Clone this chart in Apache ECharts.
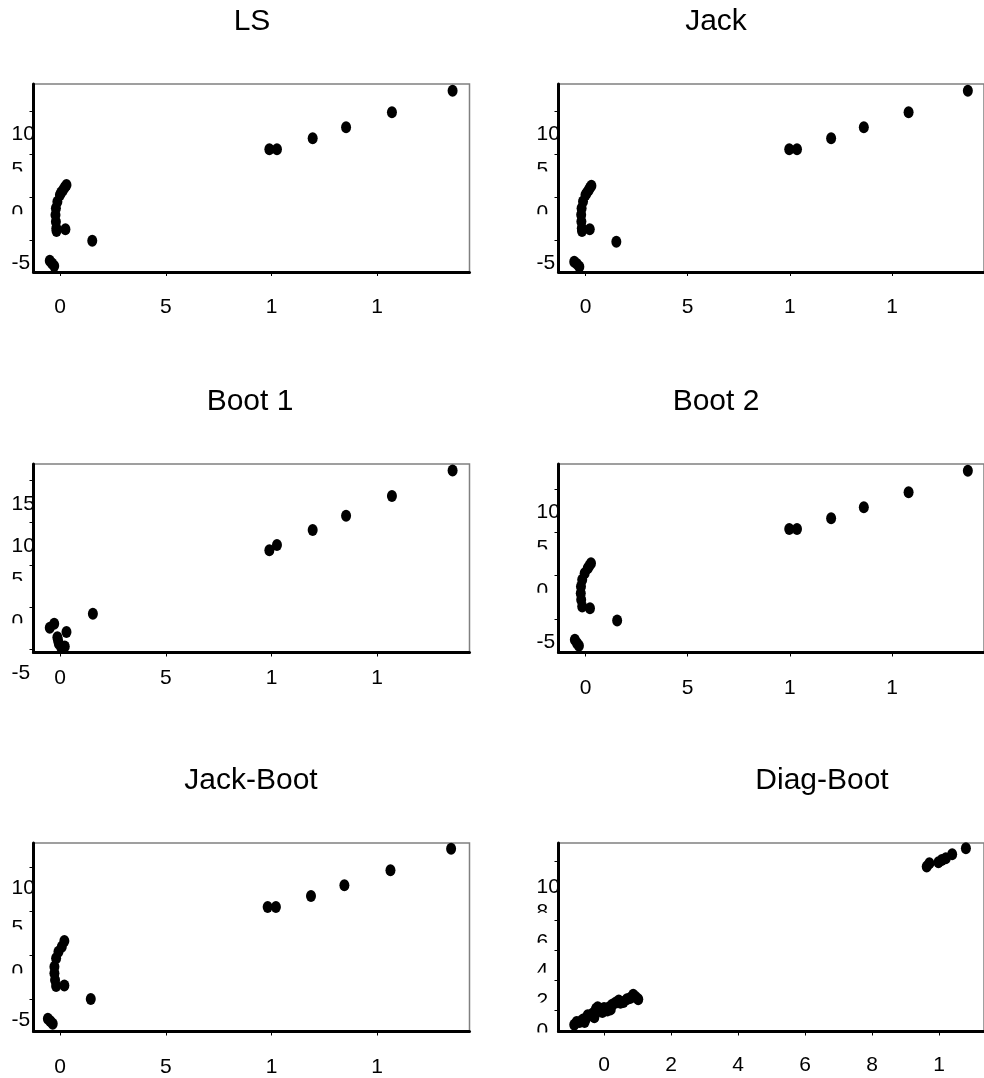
<!DOCTYPE html>
<html>
<head>
<meta charset="utf-8">
<script src="https://cdn.jsdelivr.net/npm/echarts@6/dist/echarts.min.js"></script>
<style>
html, body { margin: 0; padding: 0; background: #fff; }
#main { width: 984px; height: 1078px; }
</style>
</head>
<body>
<div id="main"></div>
<script>
var FONT = "'Liberation Sans', Arial, Helvetica, sans-serif";

var titles = ['LS', 'Jack', 'Boot 1', 'Boot 2', 'Jack-Boot', 'Diag-Boot'];

// tick values, and the (truncated) text printed at them
var xTicksWide = [0, 5, 10, 15];
var xLabelsWide = ['0', '5', '1', '1'];
var xTicksDiag = [0, 2, 4, 6, 8, 10];
var xLabelsDiag = ['0', '2', '4', '6', '8', '1'];
var yTicksA = [-5, 0, 5, 10];
var yLabelsA = ['-5', '0', '5', '10'];
var yTicksBoot1 = [-5, 0, 5, 10, 15];
var yLabelsBoot1 = ['-5', '0', '5', '10', '15'];
var yTicksDiag = [0, 2, 4, 6, 8, 10];
var yLabelsDiag = ['0', '2', '4', '6', '8', '10'];

// axis extents
var xRangeLeft = [-1.26, 19.37];
var xRangeRight = [-1.32, 19.5];
var xRangeDiag = [-1.36, 11.34];
var yRangeLS = [-8.75, 13.24];
var yRangeBoot1 = [-5.34, 16.9];
var yRangeBoot2 = [-8.87, 12.9];
var yRangeJackBoot = [-8.68, 12.8];
var yRangeDiag = [-1.41, 11.2];

// points [x, y]
var lsPoints = [
  [0.30, 1.43], [0.22, 1.15], [0.14, 0.84], [0.05, 0.55], [-0.01, 0.26], [-0.13, -0.53],
  [-0.20, -1.30], [-0.22, -2.08], [-0.20, -2.87], [-0.18, -3.64], [-0.17, -3.95], [0.25, -3.75],
  [1.52, -5.09], [-0.49, -7.43], [-0.38, -7.75], [-0.28, -8.05],
  [9.90, 5.60], [10.26, 5.60], [11.95, 6.89], [13.53, 8.18], [15.70, 9.93], [18.57, 12.46]
];
var jackPoints = [
  [0.29, 1.35], [0.22, 1.1], [0.15, 0.80], [0.06, 0.5], [0.00, 0.25], [-0.12, -0.50],
  [-0.19, -1.28], [-0.21, -2.05], [-0.20, -2.85], [-0.18, -3.62], [-0.17, -3.95], [0.21, -3.75],
  [1.51, -5.20], [-0.55, -7.54], [-0.42, -7.80], [-0.30, -8.13],
  [9.97, 5.60], [10.35, 5.60], [12.02, 6.89], [13.62, 8.18], [15.81, 9.93], [18.71, 12.46]
];
var boot1Points = [
  [-0.49, -2.41], [-0.28, -1.94], [0.30, -2.93], [-0.13, -3.53], [-0.10, -3.90],
  [-0.06, -4.31], [0.06, -4.78], [0.22, -4.63],
  [1.55, -0.76],
  [9.90, 6.73], [10.26, 7.33], [11.95, 9.10], [13.53, 10.79], [15.70, 13.12], [18.57, 16.12]
];
var boot2Points = [
  [0.27, 1.44], [0.19, 1.15], [0.11, 0.87], [-0.04, 0.29], [-0.16, -0.48], [-0.22, -1.26],
  [-0.23, -2.02], [-0.21, -2.79], [-0.16, -3.56], [0.22, -3.75],
  [1.55, -5.18], [-0.52, -7.40], [-0.41, -7.79], [-0.32, -8.10],
  [9.97, 5.40], [10.35, 5.40], [12.02, 6.63], [13.62, 7.90], [15.81, 9.63], [18.71, 12.12]
];
var jackBootPoints = [
  [0.20, 1.63], [0.08, 0.98], [-0.08, 0.41], [-0.19, -0.34], [-0.27, -1.30],
  [-0.27, -2.05], [-0.24, -2.81], [-0.19, -3.49], [0.20, -3.45],
  [1.45, -4.97], [-0.58, -7.24], [-0.46, -7.50], [-0.35, -7.81],
  [9.82, 5.52], [10.21, 5.52], [11.87, 6.77], [13.45, 7.99], [15.63, 9.69], [18.50, 12.15]
];
var diagPoints = [
  [-0.89, -0.96], [-0.82, -0.78], [-0.73, -0.78], [-0.63, -0.60], [-0.58, -0.78], [-0.53, -0.51],
  [-0.49, -0.33], [-0.39, -0.29], [-0.31, -0.16], [-0.29, -0.45], [-0.24, 0.11], [-0.19, 0.22],
  [-0.10, 0.11], [-0.05, -0.11], [0.00, 0.16], [0.10, 0.00], [0.15, 0.22], [0.20, 0.07],
  [0.24, 0.38], [0.34, 0.51], [0.44, 0.67], [0.49, 0.51], [0.58, 0.56], [0.68, 0.74],
  [0.78, 0.83], [0.87, 1.05], [0.95, 0.89], [1.02, 0.74],
  [9.63, 9.62], [9.71, 9.85], [9.98, 9.91], [10.08, 10.07], [10.20, 10.18], [10.39, 10.45], [10.80, 10.85]
];

// layout of the six panels
var colLeft = [33.5, 558.5];
var rowTop = [84, 464, 843];
var rowHeight = [188, 188.5, 188.5];
var titleTop = [7, 387, 766];

var panels = [
  { pts: lsPoints, xr: xRangeLeft, yr: yRangeLS, xt: xTicksWide, xl: xLabelsWide, yt: yTicksA, yl: yLabelsA, col: 0, row: 0, tx: 252, xm: 26, full: 23, cut: 16 },
  { pts: jackPoints, xr: xRangeRight, yr: yRangeLS, xt: xTicksWide, xl: xLabelsWide, yt: yTicksA, yl: yLabelsA, col: 1, row: 0, tx: 716, xm: 26, full: 23, cut: 16 },
  { pts: boot1Points, xr: xRangeLeft, yr: yRangeBoot1, xt: xTicksWide, xl: xLabelsWide, yt: yTicksBoot1, yl: yLabelsBoot1, col: 0, row: 1, tx: 250, xm: 16, full: 24, cut: 15 },
  { pts: boot2Points, xr: xRangeRight, yr: yRangeBoot2, xt: xTicksWide, xl: xLabelsWide, yt: yTicksA, yl: yLabelsA, col: 1, row: 1, tx: 716, xm: 26, full: 23, cut: 16 },
  { pts: jackBootPoints, xr: xRangeLeft, yr: yRangeJackBoot, xt: xTicksWide, xl: xLabelsWide, yt: yTicksA, yl: yLabelsA, col: 0, row: 2, tx: 251, xm: 26, full: 21, cut: 17 },
  { pts: diagPoints, xr: xRangeDiag, yr: yRangeDiag, xt: xTicksDiag, xl: xLabelsDiag, yt: yTicksDiag, yl: yLabelsDiag, col: 1, row: 2, tx: 822, xm: 24, full: 26, cut: 21 }
];

var LABEL_SIZE = 21;

var option = { animation: false, backgroundColor: '#fff', title: [], grid: [], xAxis: [], yAxis: [], series: [] };

panels.forEach(function (p, i) {
  option.title.push({
    text: titles[i], left: p.tx, top: titleTop[p.row], textAlign: 'center', padding: 0,
    textStyle: { fontSize: 30, fontWeight: 'normal', color: '#000', fontFamily: FONT }
  });
  option.grid.push({
    left: colLeft[p.col], top: rowTop[p.row], width: 436, height: rowHeight[p.row],
    show: true, borderColor: '#808080', borderWidth: 1.5
  });
  option.xAxis.push({
    gridIndex: i, type: 'value', min: p.xr[0], max: p.xr[1],
    axisLine: { onZero: false, lineStyle: { color: '#000', width: 3 } },
    axisTick: { length: 4, lineStyle: { color: '#000', width: 1 }, customValues: p.xt },
    axisLabel: {
      customValues: p.xt, margin: p.xm - 1, fontSize: LABEL_SIZE, color: '#000', fontFamily: FONT,
      formatter: function (v) { var k = p.xt.indexOf(v); return k < 0 ? '' : p.xl[k]; }
    },
    splitLine: { show: false }
  });
  // single-digit labels are printed with their lower half hidden
  option.yAxis.push({
    gridIndex: i, type: 'value', min: p.yr[0], max: p.yr[1],
    axisLine: { onZero: false, lineStyle: { color: '#000', width: 3 } },
    axisTick: { length: 4, lineStyle: { color: '#000', width: 1 }, customValues: p.yt },
    axisLabel: {
      customValues: p.yt, margin: 22, align: 'left', verticalAlign: 'top',
      fontSize: LABEL_SIZE, color: '#000', fontFamily: FONT,
      formatter: function (v) {
        var k = p.yt.indexOf(v);
        if (k < 0) return '';
        var s = p.yl[k];
        return s.length === 1 ? '{s| }\n{c|' + s + '}\n{m| }' : '{f|' + s + '}';
      },
      rich: {
        f: { fontSize: LABEL_SIZE, lineHeight: p.full * 2, color: '#000', fontFamily: FONT },
        s: { fontSize: 1, lineHeight: p.cut - 1 },
        c: { fontSize: LABEL_SIZE, lineHeight: 2, color: '#000', fontFamily: FONT },
        m: { fontSize: 14, lineHeight: 14, width: 17, backgroundColor: '#fff' }
      }
    },
    splitLine: { show: false }
  });
  option.series.push({
    type: 'scatter', xAxisIndex: i, yAxisIndex: i, data: p.pts,
    symbol: 'circle', symbolSize: [10, 12], itemStyle: { color: '#000', opacity: 1 }, silent: true
  });
});

var chart = echarts.init(document.getElementById('main'), null, { renderer: 'canvas' });
chart.setOption(option);
</script>
</body>
</html>
